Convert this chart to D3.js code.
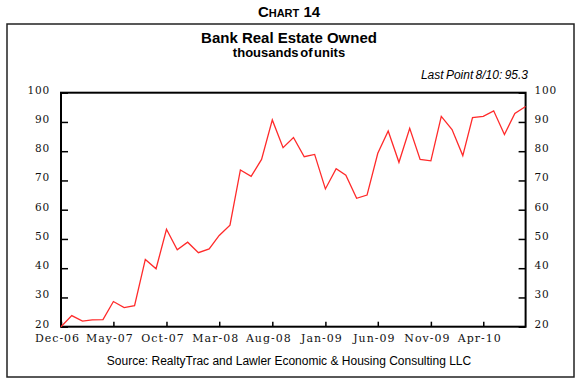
<!DOCTYPE html>
<html>
<head>
<meta charset="utf-8">
<script src="https://cdn.jsdelivr.net/npm/d3@7"></script>
<style>
  body { margin: 0; background: #fff; }
  svg { display: block; }
</style>
</head>
<body>
<svg id="chart"></svg>
<script>
// monthly bank REO, thousands of units, Dec-06 .. Aug-10
var firstMonth = new Date(2006, 11, 1);
var lastMonth = new Date(2010, 7, 1);
var reo = [20.0, 23.8, 21.9, 22.3, 22.4, 28.6, 26.5, 27.2, 43.0, 39.8,
           53.3, 46.3, 48.9, 45.3, 46.6, 51.2, 54.7, 73.6, 71.4, 77.2,
           90.7, 81.2, 84.7, 78.1, 78.9, 67.1, 74.0, 71.8, 63.9, 65.0,
           79.3, 86.9, 76.2, 87.8, 77.2, 76.7, 91.9, 87.4, 78.5, 91.5,
           91.9, 93.8, 85.7, 92.9, 95.3];
var xTickLabels = ["Dec-06", "May-07", "Oct-07", "Mar-08", "Aug-08",
                   "Jan-09", "Jun-09", "Nov-09", "Apr-10"];
var yTicks = [20, 30, 40, 50, 60, 70, 80, 90, 100];

var W = 579, H = 378;
var plotL = 61, plotR = 525.6, plotT = 92.7, plotB = 326.7;

var svg = d3.select("#chart").attr("width", W).attr("height", H);

var months = d3.timeMonth.range(firstMonth, d3.timeMonth.offset(lastMonth, 1));
var parse = d3.timeParse("%b-%y");

var x = d3.scaleTime().domain([firstMonth, lastMonth]).range([plotL, plotR]);
var y = d3.scaleLinear().domain([20, 100]).range([plotB, plotT]);

// outer frame
svg.append("rect")
  .attr("x", 7).attr("y", 24)
  .attr("width", 567).attr("height", 353)
  .attr("fill", "none").attr("stroke", "#222").attr("stroke-width", 1.5);

// titles
svg.append("text")
  .attr("x", 289).attr("y", 17)
  .attr("text-anchor", "middle")
  .style("font-family", "Liberation Sans, Arial, sans-serif")
  .style("font-weight", "bold").style("font-size", "15px")
  .style("font-variant", "small-caps")
  .text("Chart 14");

svg.append("text")
  .attr("x", 289).attr("y", 43)
  .attr("text-anchor", "middle")
  .style("font-family", "Liberation Sans, Arial, sans-serif")
  .style("font-weight", "bold").style("font-size", "15px")
  .text("Bank Real Estate Owned");

svg.append("text")
  .attr("x", 289).attr("y", 57)
  .attr("text-anchor", "middle")
  .style("font-family", "Liberation Sans, Arial, sans-serif")
  .style("font-weight", "bold").style("font-size", "13px")
  .style("word-spacing", "-2px")
  .text("thousands of units");

svg.append("text")
  .attr("x", 528).attr("y", 79)
  .attr("text-anchor", "end")
  .style("font-family", "Liberation Sans, Arial, sans-serif")
  .style("font-style", "italic").style("font-size", "12px")
  .style("word-spacing", "-1px")
  .text("Last Point 8/10: 95.3");

svg.append("text")
  .attr("x", 289).attr("y", 365)
  .attr("text-anchor", "middle")
  .style("font-family", "Liberation Sans, Arial, sans-serif")
  .style("font-size", "12px")
  .text("Source: RealtyTrac and Lawler Economic & Housing Consulting LLC");

// axes
var tickFont = function(g) {
  g.selectAll("text")
    .style("font-family", "DejaVu Serif, serif")
    .style("font-size", "10.5px")
    .style("letter-spacing", "0.8px")
    .attr("fill", "#111");
  g.selectAll(".tick line").attr("stroke", "#000").attr("stroke-width", 1.5);
  g.select(".domain").remove();
};

svg.append("g")
  .attr("transform", "translate(" + plotL + ",0)")
  .call(d3.axisRight(y).tickValues(yTicks).tickSize(7).tickFormat(d3.format("d")))
  .call(tickFont)
  .call(function(g) {
    g.selectAll("text").attr("x", -11).attr("dy", "0.05em").attr("text-anchor", "end");
  });

svg.append("g")
  .attr("transform", "translate(" + plotR + ",0)")
  .call(d3.axisLeft(y).tickValues(yTicks).tickSize(7).tickFormat(d3.format("d")))
  .call(tickFont)
  .call(function(g) {
    g.selectAll("text").attr("x", 9).attr("dy", "0.05em").attr("text-anchor", "start");
  });

svg.append("g")
  .attr("transform", "translate(0," + plotB + ")")
  .call(d3.axisTop(x).tickValues(xTickLabels.map(parse)).tickSize(5).tickFormat(d3.timeFormat("%b-%y")))
  .call(tickFont)
  .call(function(g) {
    g.selectAll("text").attr("y", 15).attr("dy", "0").attr("x", -4)
      .style("font-size", "11px").style("letter-spacing", "1px");
  });

// plot frame
svg.append("rect")
  .attr("x", plotL).attr("y", plotT)
  .attr("width", plotR - plotL).attr("height", plotB - plotT)
  .attr("fill", "none").attr("stroke", "#000").attr("stroke-width", 2);

// series
var line = d3.line()
  .x(function(d, i) { return x(months[i]); })
  .y(function(d) { return y(d); });

svg.append("path")
  .datum(reo)
  .attr("d", line)
  .attr("fill", "none")
  .attr("stroke", "#ff2a2a")
  .attr("stroke-width", 1.3)
  .attr("stroke-linejoin", "miter");
</script>
</body>
</html>
